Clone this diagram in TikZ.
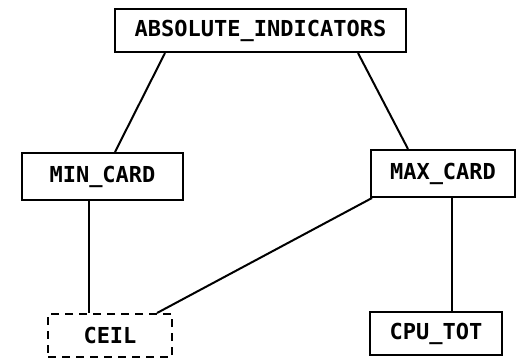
\documentclass[tikz,border=0pt]{standalone}
\usepackage{fontspec}
\setmonofont{DejaVu Sans Mono}
\usetikzlibrary{calc}
\begin{document}
\begin{tikzpicture}[x=1pt,y=-1pt,
  box/.style={draw=black,line width=2pt,rectangle,inner sep=0pt,
    font=\ttfamily\bfseries\fontsize{22}{26}\selectfont},
  dbox/.style={box,dash pattern=on 8pt off 6pt},
  link/.style={draw=black,line width=2pt}]
\useasboundingbox (0,0) rectangle (520,360);
\node[box,minimum width=291pt,minimum height=43pt] (abs) at (260.5,30.5) {ABSOLUTE\_INDICATORS};
\node[box,minimum width=161pt,minimum height=47pt] (min) at (102.5,176.5) {MIN\_CARD};
\node[box,minimum width=144pt,minimum height=47pt] (max) at (443,173.5) {MAX\_CARD};
\node[dbox,minimum width=124pt,minimum height=43pt] (ceil) at (110,335.5) {CEIL};
\node[box,minimum width=132pt,minimum height=43pt] (cpu) at (436,333.5) {CPU\_TOT};
\draw[link] ([xshift=-95.5pt]abs.south) -- ([xshift=12.5pt]min.north);
\draw[link] ([xshift=97.5pt]abs.south) -- ([xshift=-35pt]max.north);
\draw[link] ([xshift=-13.5pt]min.south) -- ([xshift=-21pt]ceil.north);
\draw[link] ([xshift=2pt]max.south west) -- ([xshift=47pt]ceil.north);
\draw[link] ([xshift=9pt]max.south) -- ([xshift=16pt]cpu.north);
\end{tikzpicture}
\end{document}
